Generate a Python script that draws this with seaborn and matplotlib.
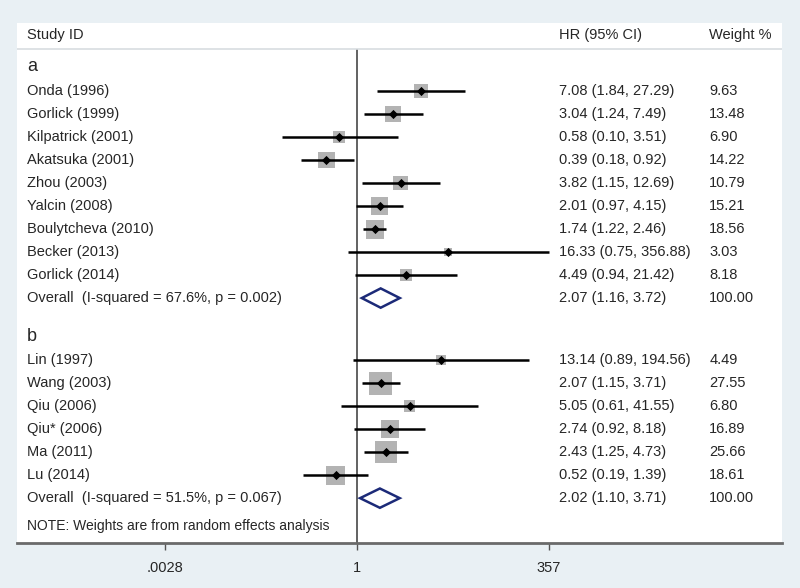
import numpy as np
import matplotlib
matplotlib.use("Agg")
import matplotlib.pyplot as plt
from matplotlib.patches import Polygon
import matplotlib.transforms as mtrans
import seaborn as sns

# 데이터: 그룹 a
a_study = ["Onda (1996)", "Gorlick (1999)", "Kilpatrick (2001)", "Akatsuka (2001)",
           "Zhou (2003)", "Yalcin (2008)", "Boulytcheva (2010)", "Becker (2013)",
           "Gorlick (2014)"]
a_hr = [7.08, 3.04, 0.58, 0.39, 3.82, 2.01, 1.74, 16.33, 4.49]
a_lo = [1.84, 1.24, 0.10, 0.18, 1.15, 0.97, 1.22, 0.75, 0.94]
a_hi = [27.29, 7.49, 3.51, 0.92, 12.69, 4.15, 2.46, 356.88, 21.42]
a_w = [9.63, 13.48, 6.90, 14.22, 10.79, 15.21, 18.56, 3.03, 8.18]
a_overall = (2.07, 1.16, 3.72)
a_overall_label = "Overall  (I-squared = 67.6%, p = 0.002)"

# 데이터: 그룹 b
b_study = ["Lin (1997)", "Wang (2003)", "Qiu (2006)", "Qiu* (2006)", "Ma (2011)", "Lu (2014)"]
b_hr = [13.14, 2.07, 5.05, 2.74, 2.43, 0.52]
b_lo = [0.89, 1.15, 0.61, 0.92, 1.25, 0.19]
b_hi = [194.56, 3.71, 41.55, 8.18, 4.73, 1.39]
b_w = [4.49, 27.55, 6.80, 16.89, 25.66, 18.61]
b_overall = (2.02, 1.10, 3.71)
b_overall_label = "Overall  (I-squared = 51.5%, p = 0.067)"

tick_vals = [0.0028, 1, 357]
tick_labels = [".0028", "1", "357"]

# 레이아웃
plt.rcParams["font.family"] = ["Liberation Sans", "DejaVu Sans"]
bg = "#e9f0f4"
txt = "#262626"
fs = 10.5

fig = plt.figure(figsize=(8, 5.88), dpi=100, facecolor=bg)
ax = fig.add_axes([17 / 800, 45 / 588, 765 / 800, 520 / 588])
ax.set_facecolor("white")
ax.set_xscale("log")
ax.set_xlim(np.exp(-10.43), np.exp(13.04))
ax.set_ylim(20.65, -1.96)

# 행 위치
ya_label = 0
ya = np.arange(1, len(a_study) + 1)
ya_over = len(a_study) + 1
yb_label = ya_over + 1.7
yb = yb_label + np.arange(1, len(b_study) + 1)
yb_over = yb_label + len(b_study) + 1
y_note = yb_over + 1.2

hr = a_hr + b_hr
lo = a_lo + b_lo
hi = a_hi + b_hi
w = a_w + b_w
ys = np.concatenate([ya, yb])

# 박스 (면적 ~ 가중치)
side_px = 4.4 * np.sqrt(np.array(w))
sizes = (side_px * 0.72) ** 2
sns.scatterplot(x=hr, y=ys, s=sizes, marker="s", color="#b3b3b3", linewidth=0, ax=ax, zorder=2)
# CI 선
ax.hlines(ys, lo, hi, color="black", lw=1.8, zorder=3)
# 점 추정
sns.scatterplot(x=hr, y=ys, s=22, marker="D", color="black", linewidth=0, ax=ax, zorder=4)

# 다이아몬드
for (est, l, h), y in [(a_overall, ya_over), (b_overall, yb_over)]:
    d = 0.42
    ax.add_patch(Polygon([(l, y), (est, y - d), (h, y), (est, y + d)], closed=True,
                         facecolor="white", edgecolor="#1c2a78", lw=1.8, zorder=3))

# 기준선 x=1
ax.vlines(1, -0.83, 20.65, color="#555555", lw=1.3, zorder=1)
ax.axhline(-0.83, color="#d8dde0", lw=1.2)

tr = mtrans.blended_transform_factory(ax.transAxes, ax.transData)
x_lab, x_hr, x_w = 0.013, 0.708, 0.905

ax.text(x_lab, -1.43, "Study ID", transform=tr, va="center", fontsize=fs, color=txt)
ax.text(x_hr, -1.43, "HR (95% CI)", transform=tr, va="center", fontsize=fs, color=txt)
ax.text(x_w, -1.43, "Weight %", transform=tr, va="center", fontsize=fs, color=txt)

ax.text(x_lab, ya_label - 0.05, "a", transform=tr, va="center", fontsize=13, color=txt)
ax.text(x_lab, yb_label - 0.05, "b", transform=tr, va="center", fontsize=13, color=txt)


def fmt(e, l, h):
    return f"{e:.2f} ({l:.2f}, {h:.2f})"


rows = list(zip(a_study + b_study, hr, lo, hi, w, ys))
for name, e, l, h, wt, y in rows:
    ax.text(x_lab, y, name, transform=tr, va="center", fontsize=fs, color=txt)
    ax.text(x_hr, y, fmt(e, l, h), transform=tr, va="center", fontsize=fs, color=txt)
    ax.text(x_w, y, f"{wt:.2f}", transform=tr, va="center", fontsize=fs, color=txt)

for lab, ov, y in [(a_overall_label, a_overall, ya_over), (b_overall_label, b_overall, yb_over)]:
    ax.text(x_lab, y, lab, transform=tr, va="center", fontsize=fs, color=txt)
    ax.text(x_hr, y, fmt(*ov), transform=tr, va="center", fontsize=fs, color=txt)
    ax.text(x_w, y, "100.00", transform=tr, va="center", fontsize=fs, color=txt)

ax.text(x_lab, y_note, "NOTE: Weights are from random effects analysis", transform=tr,
        va="center", fontsize=fs - 0.5, color=txt)

# 축
for s in ["top", "left", "right"]:
    ax.spines[s].set_visible(False)
ax.spines["bottom"].set_color("#6a6a6a")
ax.spines["bottom"].set_linewidth(2)
ax.set_yticks([])
ax.set_xticks(tick_vals)
ax.set_xticklabels(tick_labels)
ax.minorticks_off()
ax.tick_params(axis="x", length=5, width=1, color="#555555", labelsize=fs, labelcolor=txt, pad=8)
ax.set_xlabel("")
ax.set_ylabel("")

fig.savefig("out.png", dpi=100, facecolor=bg)
